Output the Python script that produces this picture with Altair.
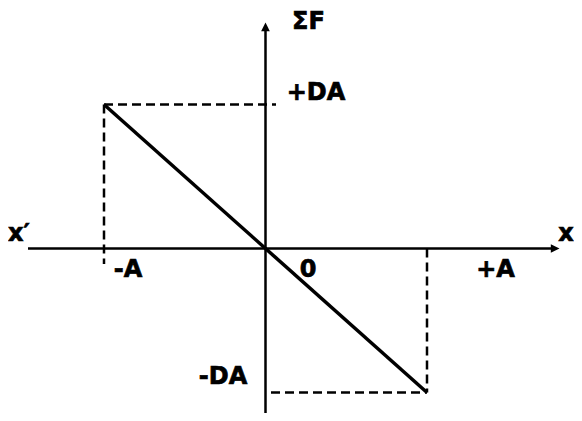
import altair as alt
import pandas as pd

# ---- data (in units of A and D·A) ----
x_values = [-1.0, 1.0]          # -A , +A
f_values = [1.0, -1.0]          # +DA, -DA
axis_names = ["x′", "x", "ΣF"]
x_tick_labels = ["-A", "0", "+A"]
f_tick_labels = ["+DA", "-DA"]

# ---- layout (page pixels -> data units) ----
W, H = 566, 405
OXp, OYp = 265.5, 248.5          # origin on the page
SX, SY = 161.5, 144.0            # pixels per unit


def X(px):
    return (px - OXp) / SX


def Y(py):
    return (OYp - py) / SY


xdom = [X(8), X(8 + W)]
ydom = [Y(8 + H), Y(8)]
xs = alt.Scale(domain=xdom, nice=False, zero=False)
ys = alt.Scale(domain=ydom, nice=False, zero=False)

A = x_values[1]
DA = f_values[0]

# main line
line_df = pd.DataFrame({"x": x_values, "f": f_values})
line = alt.Chart(line_df).mark_line(color="black", strokeWidth=3.5, clip=False).encode(
    x=alt.X("x:Q", scale=xs, axis=None),
    y=alt.Y("f:Q", scale=ys, axis=None),
)

# axes
axes_df = pd.DataFrame({
    "x": [X(28), 0.0],
    "x2": [X(555), 0.0],
    "y": [0.0, Y(415)],
    "y2": [0.0, Y(27)],
})
axes = alt.Chart(axes_df).mark_rule(color="black", strokeWidth=2.5, clip=False).encode(
    x=alt.X("x:Q", scale=xs, axis=None), x2="x2:Q",
    y=alt.Y("y:Q", scale=ys, axis=None), y2="y2:Q",
)

arrow_r = alt.Chart(pd.DataFrame({"x": [X(559.5)], "y": [0.0]})).mark_point(
    shape="M0,0L-1,-0.5L-1,0.5Z", filled=True, color="black", opacity=1, size=300, clip=False
).encode(x=alt.X("x:Q", scale=xs, axis=None), y=alt.Y("y:Q", scale=ys, axis=None))

arrow_u = alt.Chart(pd.DataFrame({"x": [0.0], "y": [Y(22.5)]})).mark_point(
    shape="M0,0L-0.5,1L0.5,1Z", filled=True, color="black", opacity=1, size=300, clip=False
).encode(x=alt.X("x:Q", scale=xs, axis=None), y=alt.Y("y:Q", scale=ys, axis=None))

# dashed guides
dash_df = pd.DataFrame({
    "x": [-A, -A, A, X(271)],
    "x2": [X(276), -A, A, A],
    "y": [DA, DA, 0.0, -DA],
    "y2": [DA, Y(264), -DA, -DA],
})
dashes = alt.Chart(dash_df).mark_rule(
    color="black", strokeWidth=2.5, strokeDash=[9, 5], clip=False
).encode(
    x=alt.X("x:Q", scale=xs, axis=None), x2="x2:Q",
    y=alt.Y("y:Q", scale=ys, axis=None), y2="y2:Q",
)

# labels
lab_df = pd.DataFrame({
    "t": axis_names + x_tick_labels + f_tick_labels,
    "x": [X(19), X(566), X(308.5), X(128), X(308), X(495.5), X(316), X(223)],
    "y": [Y(241), Y(241), Y(28.5), Y(277), Y(277), Y(277), Y(100), Y(383.5)],
})
labels = alt.Chart(lab_df).mark_text(
    font="DejaVu Sans", fontWeight="bold", fontSize=24, color="black",
    stroke="black", strokeWidth=0.7,
    align="center", baseline="alphabetic", clip=False
).encode(
    x=alt.X("x:Q", scale=xs, axis=None),
    y=alt.Y("y:Q", scale=ys, axis=None),
    text="t:N",
)

chart = alt.layer(dashes, axes, arrow_r, arrow_u, line, labels).properties(
    width=W, height=H, padding=0, background="white",
    autosize=alt.AutoSizeParams(type="none"),
).configure_view(stroke=None)

chart.save("out.html", embed_options={"renderer": "svg", "actions": False})
